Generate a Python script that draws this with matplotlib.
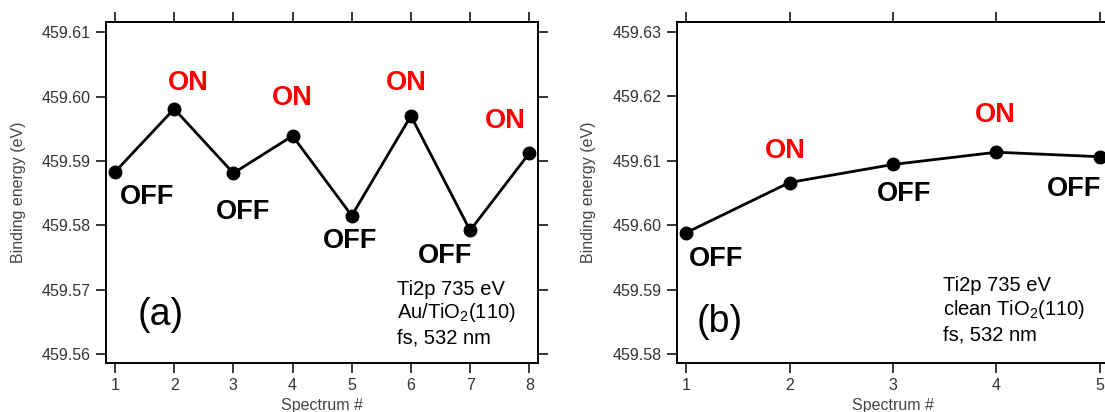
import matplotlib
matplotlib.use("Agg")
import matplotlib.pyplot as plt

# Data
spec_a = [1, 2, 3, 4, 5, 6, 7, 8]
be_a = [459.5883, 459.5981, 459.5881, 459.5939, 459.5815, 459.5970, 459.5792, 459.5912]
state_a = ['OFF', 'ON', 'OFF', 'ON', 'OFF', 'ON', 'OFF', 'ON']

spec_b = [1, 2, 3, 4, 5]
be_b = [459.5988, 459.6066, 459.6094, 459.6113, 459.6106]
state_b = ['OFF', 'ON', 'OFF', 'ON', 'OFF']

yticks_a = [459.56, 459.57, 459.58, 459.59, 459.60, 459.61]
yticks_b = [459.58, 459.59, 459.60, 459.61, 459.62, 459.63]

# label offsets (pixels: right, down) from each point
offs_a = [(32, 25), (14, -26), (10, 39), (0, -38), (-2, 25), (-5, -33), (-25, 26), (-24, -32)]
offs_b = [(30, 26), (-4, -32), (11, 30), (-1, -37), (-26, 32)]

plt.rcParams['font.family'] = ['Liberation Sans', 'DejaVu Sans']
plt.rcParams['mathtext.fontset'] = 'custom'
plt.rcParams['mathtext.rm'] = 'Liberation Sans'
plt.rcParams['mathtext.it'] = 'Liberation Sans:italic'

fig = plt.figure(figsize=(11.05, 4.12), dpi=100)
W, H = 1105, 412


def setup(rect, xlim, ylim, yticks, xticks, ylab_x):
    ax = fig.add_axes([rect[0] / W, 1 - rect[3] / H, (rect[2] - rect[0]) / W, (rect[3] - rect[1]) / H])
    ax.set_xlim(*xlim)
    ax.set_ylim(*ylim)
    ax.set_xticks(xticks)
    ax.set_yticks(yticks)
    ax.set_yticklabels([f"{v:.2f}" for v in yticks])
    ax.tick_params(direction='out', length=7, width=1.1, top=True, right=True,
                   labelsize=11.5, labelcolor='#333333', pad=4)
    for s in ax.spines.values():
        s.set_linewidth(1.4)
    ax.set_ylabel("Binding energy (eV)", fontsize=11.5, color='#444444')
    ax.set_xlabel("Spectrum #", fontsize=11.5, color='#444444')
    ax.yaxis.set_label_coords(ylab_x, 0.5)
    ax.xaxis.set_label_coords(0.5, -0.103)
    return ax


def draw(ax, x, y, states, offs):
    ax.plot(x, y, color='black', lw=2.0, marker='o', ms=9, clip_on=False, zorder=3)
    for xi, yi, st, (dx, dy) in zip(x, y, states, offs):
        ax.annotate(st, xy=(xi, yi), xytext=(dx * 0.72, -dy * 0.72), textcoords='offset points',
                    ha='center', va='center', fontsize=19.5, fontweight='bold',
                    color='red' if st == 'ON' else 'black')


# Panel (a)
ax1 = setup((106, 22, 538, 363), (0.848, 8.147), (459.5586, 459.6116), yticks_a, spec_a, -0.185)
draw(ax1, spec_a, be_a, state_a, offs_a)
ax1.text(0.127, 0.141, "(a)", transform=ax1.transAxes, fontsize=27, ha='center', va='center')
for i, line in enumerate(["Ti2p 735 eV", "Au/TiO$_2$(110)", "fs, 532 nm"]):
    ax1.text(0.674, [0.2, 0.133, 0.056][i], line, transform=ax1.transAxes,
             fontsize=14.5, ha='left', va='baseline')

# Panel (b)
ax2 = setup((677, 22, 1109, 363), (0.913, 5.087), (459.5786, 459.6315), yticks_b, spec_b, -0.1875)
draw(ax2, spec_b, be_b, state_b, offs_b)
ax2.text(0.0995, 0.12, "(b)", transform=ax2.transAxes, fontsize=27, ha='center', va='center')
for i, line in enumerate(["Ti2p 735 eV", "clean TiO$_2$(110)", "fs, 532 nm"]):
    ax2.text(0.616, [0.212, 0.142, 0.066][i], line, transform=ax2.transAxes,
             fontsize=14.5, ha='left', va='baseline')

plt.savefig("out.png", dpi=100)
